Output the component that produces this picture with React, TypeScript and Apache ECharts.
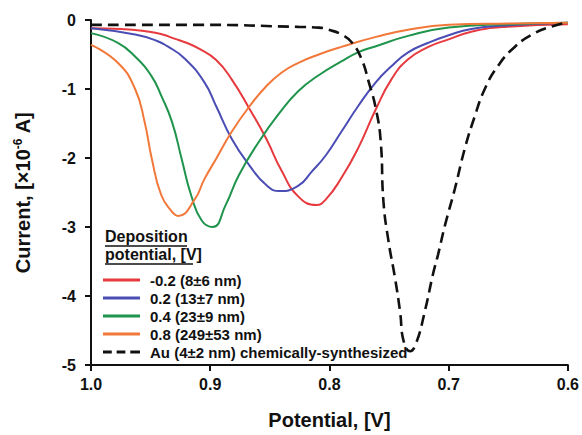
import React, { useEffect, useRef } from "react";
import * as echarts from "echarts";

const yTicks = [0, -1, -2, -3, -4, -5];

const seriesNames = [
  "-0.2 (8±6 nm)",
  "0.2 (13±7 nm)",
  "0.4 (23±9 nm)",
  "0.8 (249±53 nm)",
  "Au (4±2 nm) chemically-synthesized",
];

const redV = [1.0, 0.975, 0.951, 0.94, 0.93, 0.92, 0.909, 0.895, 0.882, 0.867, 0.853, 0.84, 0.826, 0.811, 0.803, 0.79, 0.776, 0.761, 0.748, 0.734, 0.717, 0.7, 0.681, 0.653, 0.6];
const redI = [-0.12, -0.13, -0.17, -0.21, -0.27, -0.33, -0.42, -0.58, -0.86, -1.29, -1.72, -2.19, -2.56, -2.68, -2.6, -2.29, -1.86, -1.29, -0.86, -0.57, -0.39, -0.28, -0.17, -0.1, -0.06];

const blueV = [1.0, 0.963, 0.945, 0.936, 0.922, 0.905, 0.895, 0.882, 0.867, 0.853, 0.842, 0.826, 0.815, 0.803, 0.79, 0.776, 0.761, 0.748, 0.734, 0.717, 0.7, 0.681, 0.653, 0.6];
const blueI = [-0.12, -0.21, -0.3, -0.38, -0.55, -0.9, -1.25, -1.72, -2.11, -2.39, -2.48, -2.4, -2.2, -1.96, -1.62, -1.25, -0.9, -0.67, -0.47, -0.33, -0.22, -0.13, -0.08, -0.04];

const greenV = [1.0, 0.9775, 0.963, 0.949, 0.941, 0.932, 0.924, 0.916, 0.907, 0.898, 0.887, 0.876, 0.859, 0.842, 0.826, 0.809, 0.79, 0.776, 0.761, 0.734, 0.7, 0.65, 0.6];
const greenI = [-0.19, -0.33, -0.53, -0.82, -1.1, -1.48, -2.01, -2.54, -2.91, -3.0, -2.68, -2.25, -1.76, -1.35, -1.03, -0.8, -0.6, -0.47, -0.38, -0.23, -0.11, -0.06, -0.04];

const orangeV = [1.0, 0.9775, 0.963, 0.955, 0.949, 0.941, 0.932, 0.927, 0.913, 0.905, 0.895, 0.882, 0.867, 0.853, 0.84, 0.826, 0.809, 0.79, 0.761, 0.734, 0.7, 0.65, 0.6];
const orangeI = [-0.36, -0.62, -1.0, -1.48, -2.01, -2.54, -2.78, -2.84, -2.6, -2.31, -2.01, -1.62, -1.25, -0.96, -0.76, -0.62, -0.5, -0.39, -0.245, -0.14, -0.07, -0.05, -0.04];

const auV = [1.0, 0.909, 0.826, 0.809, 0.801, 0.79, 0.781, 0.773, 0.767, 0.761, 0.757, 0.7547, 0.7506, 0.7447, 0.7406, 0.7381, 0.7322, 0.7272, 0.7197, 0.7131, 0.7089, 0.703, 0.6947, 0.6864, 0.678, 0.6697, 0.6588, 0.6446, 0.6279, 0.6146, 0.6];
const auI = [-0.07, -0.07, -0.1, -0.11, -0.14, -0.21, -0.33, -0.57, -0.9, -1.29, -1.76, -2.63, -3.19, -3.77, -4.25, -4.63, -4.8, -4.68, -4.2, -3.68, -3.4, -2.97, -2.44, -1.86, -1.39, -1.0, -0.67, -0.39, -0.19, -0.1, -0.03];

const colors = ["#e63a3e", "#4a4db3", "#1f944c", "#f2783a", "#111111"];

const zip = (a: number[], b: number[]) => a.map((v, i) => [v, b[i]]);

const solidIcon = "path://M0,0h38v3h-38z";
const dashIcon = "path://M0,0h9v3h-9zM14,0h9v3h-9zM28,0h10v3h-10z";

export default function App() {
  const ref = useRef<HTMLDivElement>(null);
  useEffect(() => {
    if (!ref.current) return;
    const chart = echarts.init(ref.current, null, { renderer: "svg" });
    const font = "'Liberation Sans', Arial, sans-serif";
    const datasets = [
      zip(redV, redI),
      zip(blueV, blueI),
      zip(greenV, greenI),
      zip(orangeV, orangeI),
      zip(auV, auI),
    ];
    chart.setOption({
      animation: false,
      grid: { left: 91, right: 11, top: 20, bottom: 66, containLabel: false },
      xAxis: {
        type: "value",
        min: 0.6,
        max: 1.0,
        interval: 0.1,
        inverse: true,
        name: "Potential, [V]",
        nameLocation: "middle",
        nameGap: 45,
        nameTextStyle: { fontFamily: font, fontWeight: "bold", fontSize: 20, color: "#111" },
        axisLine: { onZero: false, lineStyle: { color: "#111", width: 2 } },
        axisTick: { show: true, inside: false, length: 6, lineStyle: { color: "#111", width: 2 } },
        axisLabel: {
          margin: 11,
          fontFamily: font,
          fontWeight: "bold",
          fontSize: 16,
          color: "#111",
          formatter: (v: number) => v.toFixed(1),
        },
        splitLine: { show: false },
      },
      yAxis: {
        type: "value",
        min: -5,
        max: 0,
        interval: 1,
        name: "{a|Current, [×10}{b|-6}{a| A]}",
        nameLocation: "middle",
        nameRotate: 90,
        nameGap: 57,
        nameTextStyle: {
          rich: {
            a: { fontFamily: font, fontWeight: "bold", fontSize: 20, color: "#111", lineHeight: 22 },
            b: { fontFamily: font, fontWeight: "bold", fontSize: 12, color: "#111", verticalAlign: "top", lineHeight: 22 },
          },
        },
        axisLine: { show: true, onZero: false, lineStyle: { color: "#111", width: 2 } },
        axisTick: { show: true, inside: false, length: 6, lineStyle: { color: "#111", width: 2 } },
        axisLabel: {
          margin: 15,
          fontFamily: font,
          fontWeight: "bold",
          fontSize: 16,
          color: "#111",
          formatter: (v: number) => (yTicks.includes(v) ? String(v) : ""),
        },
        splitLine: { show: false },
      },
      legend: {
        orient: "vertical",
        left: 103,
        top: 272,
        padding: 0,
        itemWidth: 37,
        itemHeight: 3,
        itemGap: 2,
        data: seriesNames.map((n, i) => ({ name: n, icon: i === 4 ? dashIcon : solidIcon })),
        textStyle: { fontFamily: font, fontWeight: "bold", fontSize: 15, color: "#111", lineHeight: 16, padding: [0, 0, 0, 5] },
      },
      graphic: [
        { type: "text", left: 105, top: 228, style: { text: "Deposition", fontFamily: font, fontWeight: "bold", fontSize: 16, fill: "#111" } },
        { type: "line", shape: { x1: 105, y1: 246, x2: 187, y2: 246 }, style: { stroke: "#111", lineWidth: 1.5 } },
        { type: "text", left: 105, top: 246, style: { text: "potential, [V]", fontFamily: font, fontWeight: "bold", fontSize: 16, fill: "#111" } },
        { type: "line", shape: { x1: 105, y1: 264, x2: 193, y2: 264 }, style: { stroke: "#111", lineWidth: 1.5 } },
      ],
      series: datasets.map((d, i) => ({
        name: seriesNames[i],
        type: "line",
        data: d,
        smooth: 0.5,
        symbol: "none",
        showSymbol: false,
        z: i === 4 ? 3 : 2,
        lineStyle: {
          color: colors[i],
          width: i === 4 ? 2.6 : 2,
          type: i === 4 ? [11, 6] : "solid",
        },
        itemStyle: { color: colors[i] },
      })),
    });
    return () => chart.dispose();
  }, []);
  return <div ref={ref} style={{ width: 582, height: 435, position: "absolute", left: 0, top: 0, background: "#fff" }} />;
}
